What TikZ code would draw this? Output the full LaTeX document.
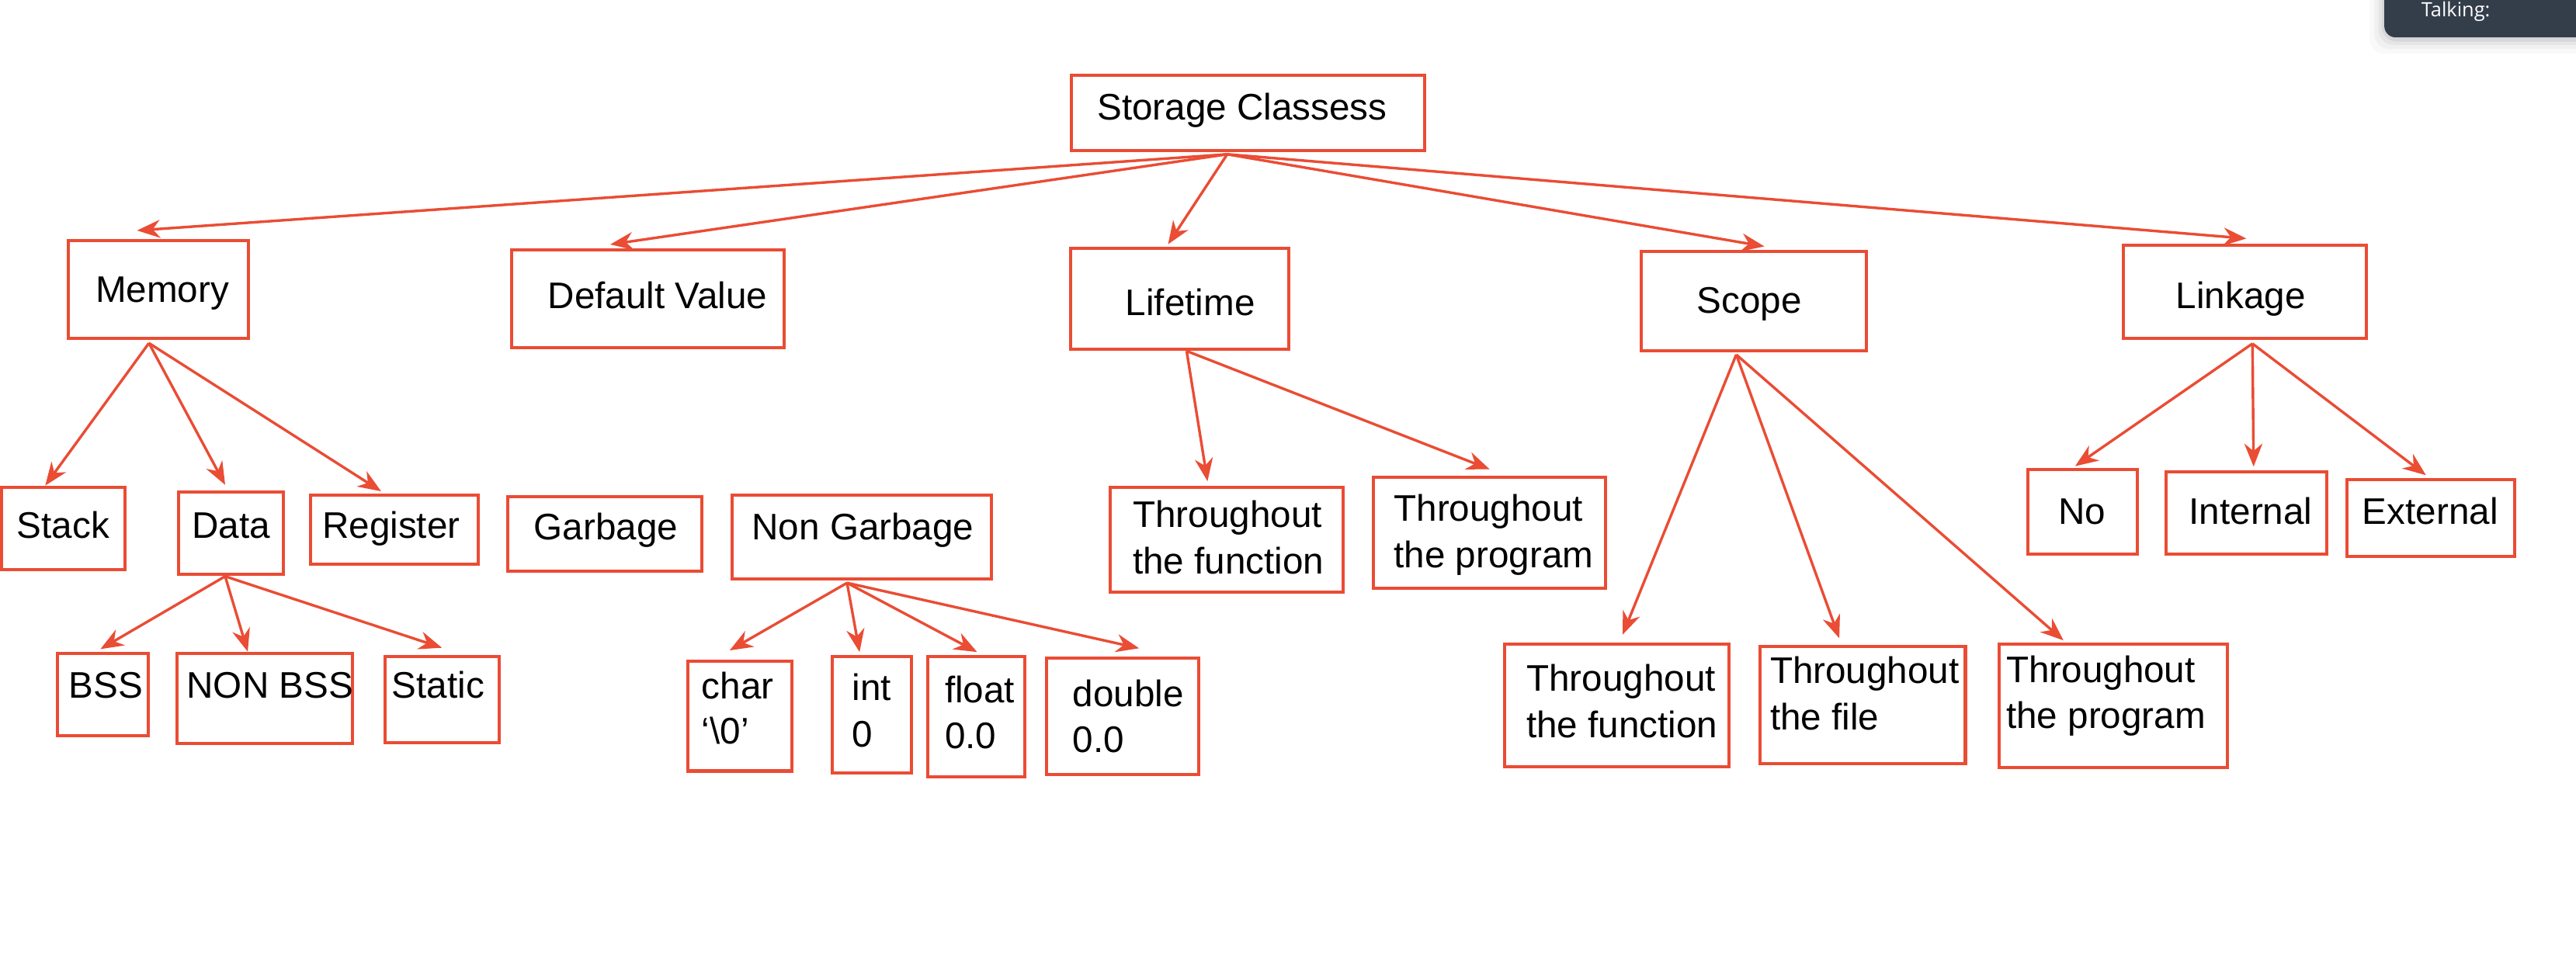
\documentclass[tikz,border=0pt]{standalone}
\usepackage{fontspec}
\setmainfont{Liberation Sans}
\newfontfamily\uifont{Open Sans}
\usetikzlibrary{arrows.meta,calc}
\definecolor{boxred}{RGB}{234,76,52}
\definecolor{talkbg}{RGB}{52,61,74}
\newcommand\drawbox[5]{\node[bx, minimum width={#4pt-#2pt}, minimum height={#5pt-#3pt}] (#1) at ({(#2+#4)/2},{(#3+#5)/2}) {};}
\newcommand\drawtext[4]{\node[lbl] (#1) at (#2,#3) {#4};}
\begin{document}
\begin{tikzpicture}[x=1pt,y=-1pt,
  bx/.style={draw=boxred, line width=1.9pt, inner sep=0pt},
  lbl/.style={anchor=base west, inner sep=0pt, font=\fontsize{22.5}{27}\selectfont, text=black},
  arr/.style={draw=boxred, line width=1.6pt, -{Stealth[length=14pt,width=11pt,inset=4.5pt]}}]
\useasboundingbox (0,0) rectangle (1568,580);
\fill[white] (0,0) rectangle (1568,580);
\clip (0,0) rectangle (1568,580);

% overlay panel
\foreach \s/\o in {9/0.025,6/0.035,3.5/0.045,1.5/0.06}
  \fill[black, opacity=\o, rounded corners=9pt] ({1451.3-\s},-20) rectangle (1600,{22.8+\s+1});
\fill[talkbg, rounded corners=7pt] (1451.3,-20) rectangle (1600,22.8);
\node[anchor=base west, inner sep=0pt, text=white, font=\uifont\fontsize{12}{14}\selectfont] (talk) at (1473.7,10.2) {Talking:};

% boxes
\drawbox{storage}{652}{46}{867}{91.5}
\drawbox{memory}{41.6}{146.5}{151.3}{206}
\drawbox{default}{311.6}{152.3}{477.3}{211.8}
\drawbox{lifetime}{651.8}{151}{784.4}{212.8}
\drawbox{scope}{998.9}{153}{1136}{213.4}
\drawbox{linkage}{1292.7}{149.2}{1440.4}{205.9}
\drawbox{stack}{0.9}{296.6}{76}{346.9}
\drawbox{data}{108.7}{299.6}{172.4}{349.7}
\drawbox{register}{189.2}{301.4}{291.2}{343.7}
\drawbox{garbage}{309.2}{302.5}{427.3}{347.6}
\drawbox{nongarbage}{445.4}{301.4}{603.6}{352.7}
\drawbox{tfa}{675.8}{296.6}{817.6}{360.7}
\drawbox{tpa}{836.2}{290.6}{977.3}{358.4}
\drawbox{no}{1234.3}{286}{1301}{337.6}
\drawbox{internal}{1318.4}{287.2}{1416.1}{337.6}
\drawbox{external}{1428.7}{291.9}{1530.6}{338.7}
\drawbox{bss}{34.8}{397.8}{90.1}{448.2}
\drawbox{nonbss}{107.6}{397.8}{214.6}{452.9}
\drawbox{static}{234.2}{399.7}{303.8}{452.1}
\drawbox{char}{418.9}{402.6}{482}{469.5}
\drawbox{int}{506.6}{399.9}{554.8}{470.5}
\drawbox{float}{564.5}{399.9}{624}{473.2}
\drawbox{double}{637.1}{400.8}{729.6}{471.4}
\drawbox{tfb}{916}{392.4}{1052.6}{466.8}
\drawbox{tfile}{1071.2}{393.5}{1196.3}{465.1}
\drawbox{tpb}{1216.8}{392.4}{1356}{467.3}

% texts
\drawtext{storage-t}{667.7}{72.8}{Storage Classess}
\drawtext{memory-t}{58}{184}{Memory}
\drawtext{default-t}{333.3}{188}{Default Value}
\drawtext{lifetime-t}{685}{192}{Lifetime}
\drawtext{scope-t}{1032.7}{190.6}{Scope}
\drawtext{linkage-t}{1324.3}{187.8}{Linkage}
\drawtext{stack-t}{10.1}{327.7}{Stack}
\drawtext{data-t}{116.7}{327.7}{Data}
\drawtext{register-t}{196}{327.7}{Register}
\drawtext{garbage-t}{324.9}{328.9}{Garbage}
\drawtext{nongarbage-t}{457.5}{328.9}{Non Garbage}
\drawtext{tfa-t1}{689.4}{321}{Throughout}
\drawtext{tfa-t2}{689.4}{349.4}{the function}
\drawtext{tpa-t1}{848.3}{317.4}{Throughout}
\drawtext{tpa-t2}{848.3}{345.8}{the program}
\drawtext{no-t}{1252.6}{319}{No}
\drawtext{internal-t}{1332.3}{319}{Internal}
\drawtext{external-t}{1437.8}{319}{External}
\drawtext{bss-t}{41.8}{425.3}{BSS}
\drawtext{nonbss-t}{113.5}{425.3}{NON BSS}
\drawtext{static-t}{238.4}{425.3}{Static}
\drawtext{char-t1}{427}{425.6}{char}
\drawtext{char-t2}{427}{453}{‘\textbackslash0’}
\drawtext{int-t1}{518.6}{426.7}{int}
\drawtext{int-t2}{518.6}{454.9}{0}
\drawtext{float-t1}{575}{427.8}{float}
\drawtext{float-t2}{575}{455.8}{0.0}
\drawtext{double-t1}{652.7}{430.2}{double}
\drawtext{double-t2}{652.7}{458}{0.0}
\drawtext{tfb-t1}{929}{420.6}{Throughout}
\drawtext{tfb-t2}{929}{449.4}{the function}
\drawtext{tfile-t1}{1077.3}{416.3}{Throughout}
\drawtext{tfile-t2}{1077.3}{444.5}{the file}
\drawtext{tpb-t1}{1221}{415.6}{Throughout}
\drawtext{tpb-t2}{1221}{443.4}{the program}

% connectors
\coordinate (storage-o) at ($(storage.south)+(-12.5,1.5)$);
\draw[arr] (storage-o) -- ($(memory.north)+(-13,-5.2)$);
\draw[arr] (storage-o) -- ($(default.north)+(-23,-2.5)$);
\draw[arr] (storage-o) -- ($(lifetime.north)+(-7.1,-1.3)$);
\draw[arr] (storage-o) -- ($(scope.north)+(6.5,-2)$);
\draw[arr] (storage-o) -- ($(linkage.north)+(0.8,-3)$);

\coordinate (memory-o) at ($(memory.south)+(-5.8,2)$);
\draw[arr] (memory-o) -- ($(stack.north)+(-10.9,0)$);
\draw[arr] (memory-o) -- ($(data.north)+(-3.5,-3.4)$);
\draw[arr] (memory-o) -- ($(register.north)+(-8.2,-1.3)$);

\coordinate (data-o) at ($(data.south)+(-3.5,0.3)$);
\draw[arr] (data-o) -- ($(bss.north)+(-1.3,-1.6)$);
\draw[arr] (data-o) -- ($(nonbss.north)+(-10.3,0)$);
\draw[arr] (data-o) -- ($(static.north)+(0,-4.3)$);

\coordinate (nongarbage-o) at ($(nongarbage.south)+(-8.9,1.3)$);
\draw[arr] (nongarbage-o) -- ($(char.north)+(-6.3,-5.6)$);
\draw[arr] (nongarbage-o) -- ($(int.north)+(-7.5,-1.9)$);
\draw[arr] (nongarbage-o) -- ($(float.north)+(0.5,-1.9)$);
\draw[arr] (nongarbage-o) -- ($(double.north)+(10,-5.1)$);

\coordinate (lifetime-o) at ($(lifetime.south)+(4.2,0)$);
\draw[arr] (lifetime-o) -- ($(tfa.north)+(-11.7,-2.6)$);
\draw[arr] (lifetime-o) -- ($(tpa.north)+(0,-3.9)$);

\coordinate (scope-o) at ($(scope.south)+(-10.6,1.6)$);
\draw[arr] (scope-o) -- ($(tfb.north)+(3.4,-5)$);
\draw[arr] (scope-o) -- ($(tfile.north)+(-14.2,-3.9)$);
\draw[arr] (scope-o) -- ($(tpb.north)+(-30.4,-1.5)$);

\coordinate (linkage-o) at ($(linkage.south)+(4.5,2.4)$);
\draw[arr] (linkage-o) -- ($(no.north)+(-4.5,-1.2)$);
\draw[arr] (linkage-o) -- ($(internal.north)+(4.5,-2.1)$);
\draw[arr] (linkage-o) -- ($(external.north)+(-3,-1.6)$);
\end{tikzpicture}
\end{document}
